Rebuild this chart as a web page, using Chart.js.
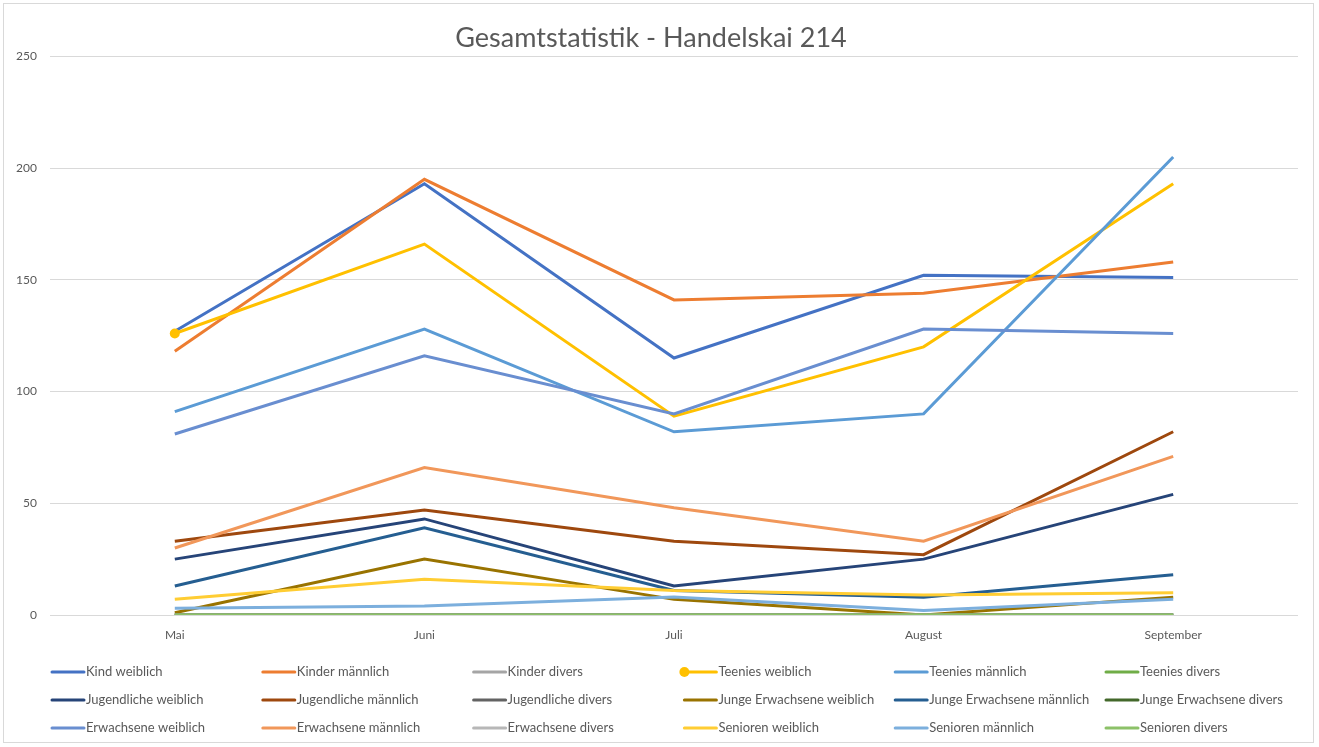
<!DOCTYPE html>
<html>
<head>
<meta charset="utf-8">
<script src="https://cdn.jsdelivr.net/npm/chart.js@4/dist/chart.umd.min.js"></script>
<style>
  html, body { margin: 0; padding: 0; background: #fff; }
  #box {
    position: absolute; left: 3px; top: 3px;
    width: 1311px; height: 740px;
    border: 1px solid #d9d9d9; box-sizing: border-box;
  }
</style>
</head>
<body>
<div id="box"><canvas id="chart"></canvas></div>
<script>
const months = ["Mai", "Juni", "Juli", "August", "September"]
const yTicks = [0, 50, 100, 150, 200, 250]

const kindWeiblich = [127, 193, 115, 152, 151]
const kinderMaennlich = [118, 195, 141, 144, 158]
const kinderDivers = [0, 0, 0, 0, 0]
const teeniesWeiblich = [126, 166, 89, 120, 193]
const teeniesMaennlich = [91, 128, 82, 90, 205]
const teeniesDivers = [0, 0, 0, 0, 0]
const jugendlicheWeiblich = [25, 43, 13, 25, 54]
const jugendlicheMaennlich = [33, 47, 33, 27, 82]
const jugendlicheDivers = [0, 0, 0, 0, 0]
const jungeErwWeiblich = [1, 25, 7, 0, 8]
const jungeErwMaennlich = [13, 39, 11, 8, 18]
const jungeErwDivers = [0, 0, 0, 0, 0]
const erwachseneWeiblich = [81, 116, 90, 128, 126]
const erwachseneMaennlich = [30, 66, 48, 33, 71]
const erwachseneDivers = [0, 0, 0, 0, 0]
const seniorenWeiblich = [7, 16, 11, 9, 10]
const seniorenMaennlich = [3, 4, 8, 2, 7]
const seniorenDivers = [0, 0, 0, 0, 0]

const series = [
  ["Kind weiblich", kindWeiblich, "#4472C4"],
  ["Kinder männlich", kinderMaennlich, "#ED7D31"],
  ["Kinder divers", kinderDivers, "#A5A5A5"],
  ["Teenies weiblich", teeniesWeiblich, "#FFC000"],
  ["Teenies männlich", teeniesMaennlich, "#5B9BD5"],
  ["Teenies divers", teeniesDivers, "#70AD47"],
  ["Jugendliche weiblich", jugendlicheWeiblich, "#264478"],
  ["Jugendliche männlich", jugendlicheMaennlich, "#9E480E"],
  ["Jugendliche divers", jugendlicheDivers, "#636363"],
  ["Junge Erwachsene weiblich", jungeErwWeiblich, "#997300"],
  ["Junge Erwachsene männlich", jungeErwMaennlich, "#255E91"],
  ["Junge Erwachsene divers", jungeErwDivers, "#43682B"],
  ["Erwachsene weiblich", erwachseneWeiblich, "#698ED0"],
  ["Erwachsene männlich", erwachseneMaennlich, "#F1975A"],
  ["Erwachsene divers", erwachseneDivers, "#B7B7B7"],
  ["Senioren weiblich", seniorenWeiblich, "#FFCD33"],
  ["Senioren männlich", seniorenMaennlich, "#7CAFDD"],
  ["Senioren divers", seniorenDivers, "#8CC168"]
]

const FONT = "Lato, 'Open Sans', sans-serif"
const GREY = "#595959"

// only "Teenies weiblich" shows a marker, on its first point
const markerSeries = "Teenies weiblich"

const datasets = series.map(([label, data, color], i) => ({
  label,
  data,
  borderColor: color,
  backgroundColor: color,
  borderWidth: 3,
  fill: false,
  tension: 0,
  order: series.length - i,
  pointRadius: label === markerSeries ? (c => c.dataIndex === 0 ? 5 : 0) : 0,
  pointHoverRadius: 0,
  pointBorderWidth: 0
}))

// legend laid out as a fixed 6-column grid like the original
const gridLegend = {
  id: "gridLegend",
  afterDraw(chart) {
    const ctx = chart.ctx
    const cols = 6
    const colW = 210.8
    const x0 = 48
    const y0 = 668
    const rowH = 28
    ctx.save()
    ctx.font = "13px " + FONT
    ctx.textBaseline = "middle"
    ctx.textAlign = "left"
    chart.data.datasets.forEach((ds, i) => {
      const x = x0 + (i % cols) * colW
      const y = y0 + Math.floor(i / cols) * rowH
      ctx.strokeStyle = ds.borderColor
      ctx.lineWidth = 3
      ctx.lineCap = "round"
      ctx.beginPath()
      ctx.moveTo(x, y)
      ctx.lineTo(x + 32, y)
      ctx.stroke()
      if (ds.label === markerSeries) {
        ctx.fillStyle = ds.borderColor
        ctx.beginPath()
        ctx.arc(x, y, 5, 0, Math.PI * 2)
        ctx.fill()
      }
      ctx.fillStyle = GREY
      ctx.fillText(ds.label, x + 34, y)
    })
    ctx.restore()
  }
}

new Chart(document.getElementById("chart"), {
  type: "line",
  data: { labels: months, datasets },
  plugins: [gridLegend],
  options: {
    responsive: true,
    maintainAspectRatio: false,
    animation: false,
    layout: { padding: { left: 0, right: 15, top: 0, bottom: 0 } },
    plugins: {
      legend: { display: false },
      tooltip: { enabled: false },
      title: {
        display: true,
        text: "Gesamtstatistik - Handelskai 214",
        color: GREY,
        font: { family: FONT, size: 27, weight: "normal" },
        padding: { top: 18, bottom: 2 }
      }
    },
    scales: {
      x: {
        offset: true,
        grid: { display: false, drawTicks: false },
        border: { display: false },
        ticks: { color: GREY, font: { family: FONT, size: 12 }, padding: 13 },
        afterFit: s => { s.height = 127 }
      },
      y: {
        min: 0,
        max: 250,
        afterBuildTicks: s => { s.ticks = yTicks.map(v => ({ value: v })) },
        grid: { color: "#D9D9D9", lineWidth: 1, drawTicks: false },
        border: { display: false },
        ticks: { color: GREY, font: { family: FONT, size: 12 }, padding: 13 },
        afterFit: s => { s.width = 46 }
      }
    }
  }
})
</script>
</body>
</html>
